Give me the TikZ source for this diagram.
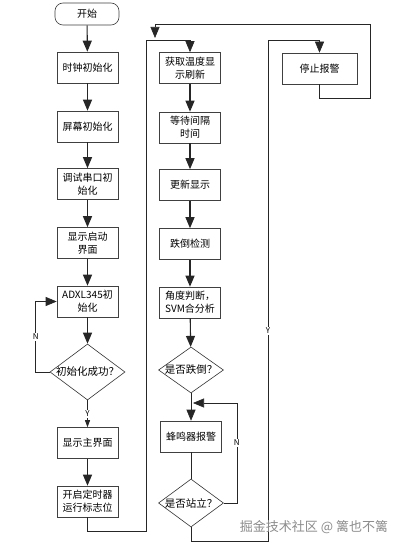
\documentclass[tikz,border=0pt]{standalone}
\usepackage{fontspec}
\setmainfont{Noto Sans CJK SC}
\usetikzlibrary{arrows.meta,shapes.geometric}
\begin{document}
\begin{tikzpicture}[x=1pt,y=-1pt,
  box/.style={draw=black!75, line width=0.6pt, minimum width=61pt, minimum height=31pt, inner sep=1pt, align=center, font=\fontsize{10}{13}\selectfont},
  dia/.style={draw=black!80, line width=0.6pt, diamond, inner sep=0pt},
  dtxt/.style={font=\fontsize{10.5}{13}\selectfont, inner sep=0pt},
  arr/.style={-{Triangle[length=11pt,width=9pt]}},
  sarr/.style={-{Triangle[length=7pt,width=5pt]}},
  thk/.style={line width=1.1pt, draw=black!85},
  ln/.style={line width=0.6pt, draw=black!85},
  lab/.style={fill=white, inner sep=1pt, font=\fontsize{8}{8}\selectfont}]
\useasboundingbox (0,0) rectangle (406,548);
\fill[white] (0,0) rectangle (406,548);
% left column
\node[box, rounded corners=8pt, minimum width=64pt, minimum height=22pt] (start) at (87,14) {开始};
\node[box] (b1) at (87.5,67.5) {时钟初始化};
\node[box] (b2) at (87.5,126.5) {屏幕初始化};
\node[box] (b3) at (87.5,184) {调试串口初\\始化};
\node[box] (b4) at (87.5,243) {显示启动\\界面};
\node[box] (b5) at (87.5,301.5) {ADXL345初\\始化};
\node[dia, minimum width=75pt, minimum height=56pt] (d1) at (87.5,372) {};
\node[dtxt] (d1t) at (87.5,372) {初始化成功？};
\node[box] (b6) at (87.5,443) {显示主界面};
\node[box] (b7) at (87.5,501.5) {开启定时器\\运行标志位};
% middle column
\node[box] (m1) at (190,68) {获取温度显\\示刷新};
\node[box] (m2) at (190,127.5) {等待间隔\\时间};
\node[box] (m3) at (190,185) {更新显示};
\node[box] (m4) at (190,244) {跌倒检测};
\node[box] (m5) at (190,302.5) {角度判断，\\SVM合分析};
\node[dia, minimum width=65pt, minimum height=46pt] (d2) at (191,370) {};
\node[dtxt] (d2t) at (191,370) {是否跌倒？};
\node[box] (m6) at (191,436.5) {蜂鸣器报警};
\node[dia, minimum width=65pt, minimum height=48pt] (d3) at (191,503) {};
\node[dtxt] (d3t) at (191,503) {是否站立？};
% right
\node[box, minimum width=75pt] (r1) at (319.5,68.5) {停止报警};
% helper coordinates
\coordinate (c1) at (146,40);
\coordinate (c2) at (193,403);
\coordinate (c3) at (268,40);
\coordinate (c4) at (370,24);
\coordinate (c5) at (155,38);
% connectors left
\draw[thk,arr] (start) -- (b1);
\draw[thk,arr] (b1) -- (b2);
\draw[thk,arr] (b2) -- (b3);
\draw[thk,arr] (b3) -- (b4);
\draw[thk,arr] (b4) -- (b5);
\draw[thk,arr] (b5) -- (d1);
\draw[ln,sarr] (d1.south) -- node[lab]{Y} (b6);
\draw[ln,arr] (d1.west) -- ++(-14,0) |- node[pos=0.25,lab]{N} (b5.west);
\draw[thk,arr] (b6) -- (b7);
\draw[ln,arr] (b7.south) -- ++(0,14) -| (c1) -| (m1.north);
% middle
\draw[thk,arr] (m1) -- (m2);
\draw[thk,arr] (m2) -- (m3);
\draw[thk,arr] (m3) -- (m4);
\draw[thk,arr] (m4) -- (m5);
\draw[thk,arr] (m5) -- (d2);
\draw[ln,arr] (d2.south) -- (m6.north);
\draw[ln] (m6) -- (d3);
\draw[ln,arr] (d3.east) -- ++(13,0) |- node[pos=0.3,lab]{N} (c2);
\draw[ln,arr] (d3.south) -- ++(0,14) -| node[pos=0.71,lab]{Y} (c3) -| (r1.north);
\draw[ln,arr] (r1.south) -- ++(0,14) -| (c4) -| (c5);
% watermark
\node[text=black!45, font=\fontsize{13}{13}\selectfont, inner sep=0pt] (wm) at (314,527) {掘金技术社区 @ 篱也不篱};
\end{tikzpicture}
\end{document}
